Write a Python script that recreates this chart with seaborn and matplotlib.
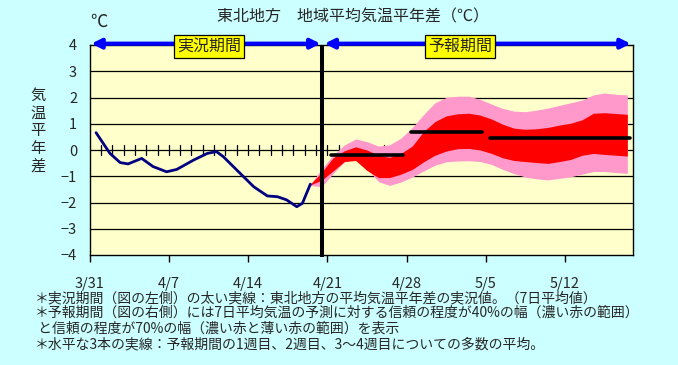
import numpy as np
import pandas as pd
import seaborn as sns
import matplotlib
matplotlib.use("Agg")
import matplotlib.pyplot as plt
import matplotlib.transforms as mtransforms

# ---- data ----
title = "東北地方　地域平均気温平年差（℃）"
x_tick_days = [0, 7, 14, 21, 28, 35, 42]
x_tick_labels = ["3/31", "4/7", "4/14", "4/21", "4/28", "5/5", "5/12"]
y_ticks = [-4, -3, -2, -1, 0, 1, 2, 3, 4]

obs_day = [0.57, 1.8, 2.7, 3.4, 4.6, 5.6, 6.8, 7.7, 9.2, 10.4, 11.2, 11.8,
           13.3, 14.5, 15.7, 16.6, 17.4, 18.3, 18.8, 19.5]
obs_val = [0.66, -0.13, -0.48, -0.53, -0.32, -0.63, -0.83, -0.74, -0.38, -0.13,
           -0.06, -0.25, -0.89, -1.40, -1.75, -1.78, -1.90, -2.16, -2.03, -1.30]

fc_day = [19.5, 20.5, 21.5, 22.5, 23.5, 24.5, 25.5, 26.5, 27.5, 28.5, 29.5,
          30.5, 31.5, 32.5, 33.5, 34.5, 35.5, 36.5, 37.5, 38.5, 39.5, 40.5,
          41.5, 42.5, 43.5, 44.5, 45.5, 46.5, 47.5]
outer_hi = [-1.30, -0.72, -0.20, 0.19, 0.42, 0.32, 0.15, 0.20, 0.45, 0.85, 1.35,
            1.80, 2.00, 2.05, 2.05, 1.93, 1.75, 1.58, 1.48, 1.46, 1.52, 1.60,
            1.70, 1.80, 1.90, 2.10, 2.17, 2.12, 2.10]
outer_lo = [-1.35, -1.40, -0.90, -0.45, -0.35, -0.70, -1.20, -1.35, -1.22, -1.03,
            -0.80, -0.58, -0.45, -0.42, -0.41, -0.44, -0.55, -0.74, -0.90, -1.03,
            -1.10, -1.14, -1.08, -1.02, -0.92, -0.82, -0.82, -0.86, -0.89]
inner_hi = [-1.30, -0.85, -0.30, -0.03, 0.12, 0.00, -0.20, -0.28, -0.13, 0.15,
            0.70, 1.08, 1.30, 1.38, 1.40, 1.33, 1.18, 0.98, 0.83, 0.79, 0.81,
            0.86, 0.95, 1.02, 1.15, 1.40, 1.42, 1.39, 1.36]
inner_lo = [-1.33, -1.15, -0.80, -0.44, -0.40, -0.78, -1.05, -1.05, -0.92, -0.74,
            -0.45, -0.20, -0.04, 0.05, 0.06, 0.00, -0.13, -0.30, -0.40, -0.44,
            -0.48, -0.51, -0.44, -0.36, -0.20, -0.13, -0.17, -0.20, -0.23]

week_start = [21.3, 28.4, 35.4]
week_end = [27.7, 34.7, 47.7]
week_val = [-0.20, 0.70, 0.45]

split_day = 20.55
label_obs = "実況期間"
label_fc = "予報期間"
ylabel_txt = "気\n温\n平\n年\n差"
unit_txt = "℃"
notes = [
    "＊実況期間（図の左側）の太い実線：東北地方の平均気温平年差の実況値。（7日平均値）",
    "＊予報期間（図の右側）には7日平均気温の予測に対する信頼の程度が40%の幅（濃い赤の範囲）",
    " と信頼の程度が70%の幅（濃い赤と薄い赤の範囲）を表示",
    "＊水平な3本の実線：予報期間の1週目、2週目、3～4週目についての多数の平均。",
]

# ---- style ----
sns.set_style("white")
plt.rcParams['font.family'] = ['Noto Sans CJK JP', 'DejaVu Sans']
FIG_BG = "#CCFFFF"
AX_BG = "#FFFFCC"

fig = plt.figure(figsize=(6.78, 3.65), dpi=100, facecolor=FIG_BG)
ax = fig.add_axes([89.6 / 678, 1 - 255 / 365, (633 - 89.6) / 678, 210 / 365])
ax.set_facecolor(AX_BG)
ax.set_xlim(0, 48)
ax.set_ylim(-4, 4)

# gridlines
for yv in y_ticks[1:-1]:
    ax.axhline(yv, color="black", lw=0.9, zorder=1)

# small day ticks on the zero line
for d in range(1, 48):
    ax.plot([d, d], [-0.2, 0.2], color="black", lw=0.9, zorder=1)

# forecast bands
ax.fill_between(fc_day, outer_lo, outer_hi, color="#FF99CC", lw=0, zorder=2)
ax.fill_between(fc_day, inner_lo, inner_hi, color="#FF0000", lw=0, zorder=3)

# observed line
df_obs = pd.DataFrame({"day": obs_day, "val": obs_val})
sns.lineplot(data=df_obs, x="day", y="val", ax=ax, color="#000080", lw=2.0,
             zorder=5, sort=False)

# weekly mean lines
for s, e, v in zip(week_start, week_end, week_val):
    ax.plot([s, e], [v, v], color="black", lw=2.6, solid_capstyle="round", zorder=6)

# split line
ax.plot([split_day, split_day], [-4.07, 4.0], color="black", lw=2.9,
        zorder=7, clip_on=False, solid_capstyle="butt")

# period arrows
ax.annotate("", xy=(0.15, 4.05), xytext=(20.4, 4.05),
            arrowprops=dict(arrowstyle="<|-|>", color="#0000FF", lw=3,
                            mutation_scale=14, shrinkA=0, shrinkB=0),
            annotation_clip=False, zorder=8)
ax.annotate("", xy=(20.75, 4.05), xytext=(47.8, 4.05),
            arrowprops=dict(arrowstyle="<|-|>", color="#0000FF", lw=3,
                            mutation_scale=14, shrinkA=0, shrinkB=0),
            annotation_clip=False, zorder=8)
box = dict(boxstyle="square,pad=0.18", fc="#FFFF00", ec="black", lw=0.9)
ax.text(10.55, 3.95, label_obs, ha="center", va="center", fontsize=11.5,
        bbox=box, zorder=9)
ax.text(32.7, 3.95, label_fc, ha="center", va="center", fontsize=11.5,
        bbox=box, zorder=9)

# axes ticks
ax.set_xticks(x_tick_days)
ax.set_xticklabels(x_tick_labels, fontsize=10.5)
offset = mtransforms.ScaledTranslation(5 / 100, 0, fig.dpi_scale_trans)
for lab in ax.get_xticklabels():
    lab.set_transform(lab.get_transform() + offset)
ax.tick_params(axis="x", direction="out", length=5, width=1, color="black",
               pad=11, bottom=True)
ax.set_yticks(y_ticks)
ax.set_yticklabels([str(v).replace("-", "−") for v in y_ticks], fontsize=10.5)
ax.tick_params(axis="y", length=0, pad=9, left=False)
ax.set_xlabel("")
ax.set_ylabel("")
for sp in ax.spines.values():
    sp.set_visible(True)
    sp.set_color("black")
    sp.set_linewidth(1.0)

# texts
fig.text(353 / 678, 1 - 17 / 365, title, ha="center", va="center", fontsize=11.5)
fig.text(99 / 678, 1 - 22 / 365, unit_txt, ha="center", va="center", fontsize=12.5)
fig.text(38 / 678, 1 - 131 / 365, ylabel_txt, ha="center", va="center",
         fontsize=11, linespacing=1.05)
note_y = [298, 313, 329, 344]
for t, yy in zip(notes, note_y):
    fig.text(35 / 678, 1 - yy / 365, t, ha="left", va="center", fontsize=10)

fig.savefig("out.png", dpi=100, facecolor=FIG_BG)
